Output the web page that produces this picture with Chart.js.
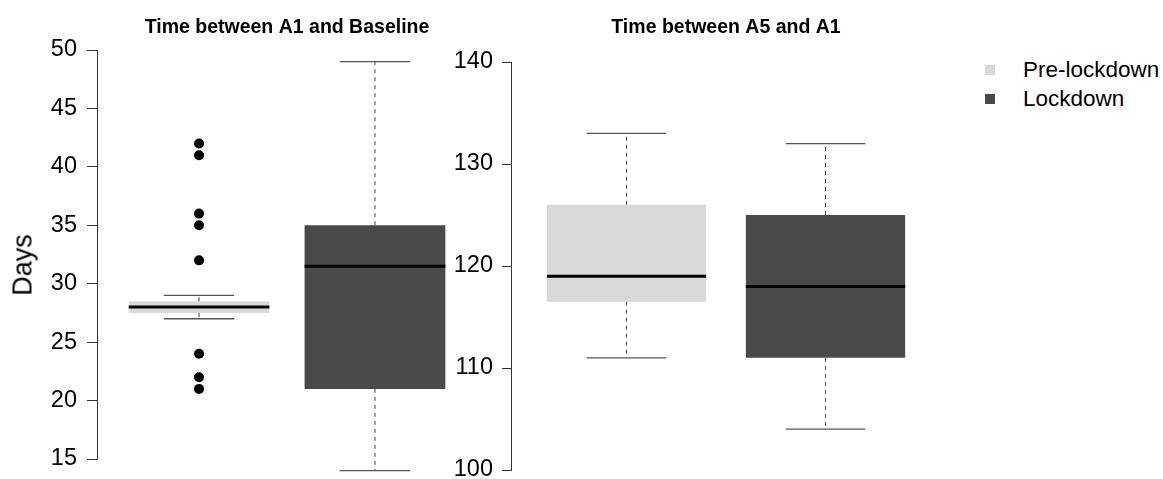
<!DOCTYPE html>
<html>
<head>
<meta charset="utf-8">
<script src="https://cdn.jsdelivr.net/npm/chart.js@4/dist/chart.umd.min.js"></script>
<style>
  html, body { margin: 0; padding: 0; background: #fff; overflow: hidden; }
  body { width: 1163px; height: 479px; position: relative; font-family: "Liberation Sans", Arial, sans-serif; }
  .panel { position: absolute; top: 0; height: 500px; }
  #ylab { position: absolute; left: 22.5px; top: 265px; transform: translate(-50%, -50%) rotate(-90deg); font-size: 27px; color: #000; white-space: nowrap; }
  .leg { position: absolute; left: 985px; font-size: 22.5px; color: #000; }
  .leg i { position: absolute; left: 0; width: 10px; height: 10px; }
  .leg span { position: absolute; left: 38px; white-space: nowrap; line-height: 1; transform: translateY(-50%); }
</style>
</head>
<body>
<div class="panel" style="left:0;width:490px"><canvas id="chA1"></canvas></div>
<div class="panel" style="left:430px;width:530px"><canvas id="chA5"></canvas></div>
<div id="ylab">Days</div>
<div id="legend"></div>
<script>
// ---- datos ----
const GROUPS = ["Pre-lockdown", "Lockdown"];
const COLORS = ["#d9d9d9", "#4a4a4a"];

// Time between A1 and Baseline
const a1Min = [27, 14];
const a1Q1 = [27.5, 21];
const a1Median = [28, 31.5];
const a1Q3 = [28.5, 35];
const a1Max = [29, 49];
const a1Outliers = [[42, 41, 36, 35, 32, 24, 22, 21], []];
const a1Axis = { min: 15, max: 50, step: 5 };

// Time between A5 and A1
const a5Min = [111, 104];
const a5Q1 = [116.5, 111];
const a5Median = [119, 118];
const a5Q3 = [126, 125];
const a5Max = [133, 132];
const a5Outliers = [[], []];
const a5Axis = { min: 100, max: 140, step: 10 };

const FONT = "'Liberation Sans', Arial, sans-serif";
const WHISK = "#444";
const CAP = "#555";

function seg(x0, y0, x1, y1, color, width, dash){
  return {
    type: "line", data: [{x: x0, y: y0}, {x: x1, y: y1}],
    borderColor: color, borderWidth: width, borderDash: dash || [],
    borderCapStyle: "butt", pointRadius: 0, fill: false, clip: false,
  };
}

function makePanel(id, title, s, axis, lay){
  const meds = [], whisk = [], pts = [];
  GROUPS.forEach((g, i) => {
    const x = i + 1;
    meds.push(seg(x - 0.4, s.med[i], x + 0.4, s.med[i], "#000", 3));
    whisk.push(seg(x, s.q3[i], x, s.max[i], WHISK, 1, [4, 4]));
    whisk.push(seg(x, s.q1[i], x, s.min[i], WHISK, 1, [4, 4]));
    whisk.push(seg(x - 0.2, s.max[i], x + 0.2, s.max[i], CAP, 1.3));
    whisk.push(seg(x - 0.2, s.min[i], x + 0.2, s.min[i], CAP, 1.3));
    s.out[i].forEach(v => pts.push({x, y: v}));
  });
  const datasets = [
    ...meds,
    { type: "scatter", data: pts, pointRadius: 5, backgroundColor: "#000", borderWidth: 0 },
    ...whisk,
    { type: "bar", data: GROUPS.map((g, i) => ({x: i + 1, y: [s.q1[i], s.q3[i]]})),
      backgroundColor: COLORS, borderWidth: 0, categoryPercentage: 1, barPercentage: 0.8 },
  ];
  return new Chart(document.getElementById(id), {
    type: "bar",
    data: { datasets },
    options: {
      responsive: true, maintainAspectRatio: false, animation: false, events: [],
      layout: { padding: { left: 0, top: 0, right: lay.right, bottom: lay.bottom } },
      plugins: {
        legend: { display: false }, tooltip: { enabled: false },
        title: { display: true, text: title, fullSize: false, color: "#000",
          font: { family: FONT, size: 19.5, weight: "bold", lineHeight: 1.2 },
          padding: { top: 16, bottom: lay.titleBottom } },
      },
      scales: {
        x: { type: "linear", min: 0.42, max: 2.58, display: false, offset: false,
             ticks: { stepSize: 1, includeBounds: false }, grid: { display: false } },
        y: { type: "linear", min: axis.min, max: axis.max,
             afterFit: sc => { sc.width = lay.axisW; },
             ticks: { stepSize: axis.step, color: "#000", padding: lay.tickPad,
                      font: { family: FONT, size: 23.5 } },
             grid: { drawOnChartArea: false, drawTicks: true, tickLength: lay.tickLen, color: "#333" },
             border: { display: true, color: "#333", width: 1 } },
      },
    },
  });
}

makePanel("chA1", "Time between A1 and Baseline",
  { min: a1Min, q1: a1Q1, med: a1Median, q3: a1Q3, max: a1Max, out: a1Outliers }, a1Axis,
  { right: 13, bottom: 41, titleBottom: 10.6, axisW: 97, tickPad: 10, tickLen: 10 });

makePanel("chA5", "Time between A5 and A1",
  { min: a5Min, q1: a5Q1, med: a5Median, q3: a5Q3, max: a5Max, out: a5Outliers }, a5Axis,
  { right: 19, bottom: 30, titleBottom: 22.6, axisW: 81, tickPad: 9, tickLen: 9 });

// leyenda
const legTops = [70, 99];
document.getElementById("legend").innerHTML = GROUPS.map((g, i) => `
  <div class="leg" style="top:${legTops[i]}px">
    <i style="background:${COLORS[i]};top:-5px"></i><span>${g}</span>
  </div>`).join("");
</script>
</body>
</html>
